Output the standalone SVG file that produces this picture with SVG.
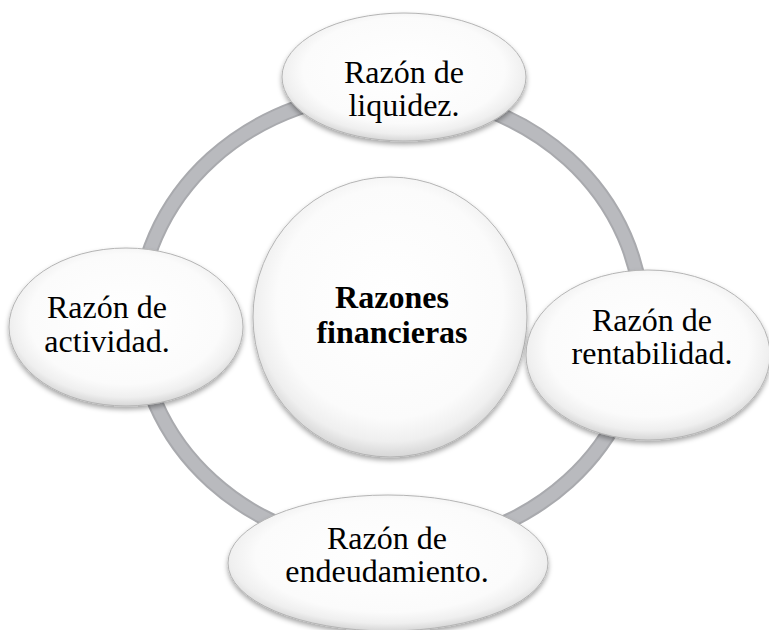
<svg xmlns="http://www.w3.org/2000/svg" width="769" height="630" viewBox="0 0 769 630">
<defs>
<radialGradient id="g" cx="50%" cy="45%" r="55%">
<stop offset="0" stop-color="#ffffff"/>
<stop offset="0.75" stop-color="#fbfbfb"/>
<stop offset="0.9" stop-color="#efefef"/>
<stop offset="1" stop-color="#d6d6d6"/>
</radialGradient>
<filter id="sh" x="-10%" y="-10%" width="120%" height="125%">
<feDropShadow dx="0" dy="3" stdDeviation="2.5" flood-color="#000" flood-opacity="0.35"/>
</filter>
<style>
.node{fill:url(#g);stroke:#b4b4b4;stroke-width:1;filter:url(#sh)}
.t{font-size:32px;fill:#000;text-anchor:middle}
.b{font-weight:bold}
.ring{fill:none;stroke:#a9aaae;stroke-width:16}
.ringi{fill:none;stroke:#b9babe;stroke-width:12}
</style>
</defs>
<rect width="769" height="630" fill="#fff"/>
<g id="connectors">
<ellipse class="ring" cx="390" cy="320" rx="252" ry="228"/>
<ellipse class="ringi" cx="390" cy="320" rx="252" ry="228"/>
</g>
<g font-family="Liberation Serif, serif">
<g id="center">
<ellipse class="node" cx="390" cy="317" rx="137" ry="140"/>
<text class="t b" x="392" y="308">Razones</text>
<text class="t b" x="392" y="343">financieras</text>
</g>
<g id="liquidez">
<ellipse class="node" cx="404" cy="77" rx="122" ry="64"/>
<text class="t" x="404" y="83">Razón de</text>
<text class="t" x="404" y="116">liquidez.</text>
</g>
<g id="actividad">
<ellipse class="node" cx="126" cy="327" rx="117" ry="79"/>
<text class="t" x="107" y="318">Razón de</text>
<text class="t" x="107" y="352">actividad.</text>
</g>
<g id="rentabilidad">
<ellipse class="node" cx="648" cy="355" rx="122" ry="85"/>
<text class="t" x="652" y="331">Razón de</text>
<text class="t" x="652" y="364">rentabilidad.</text>
</g>
<g id="endeudamiento">
<ellipse class="node" cx="388" cy="563" rx="160" ry="68"/>
<text class="t" x="387" y="549">Razón de</text>
<text class="t" x="387" y="582">endeudamiento.</text>
</g>
</g>
</svg>
